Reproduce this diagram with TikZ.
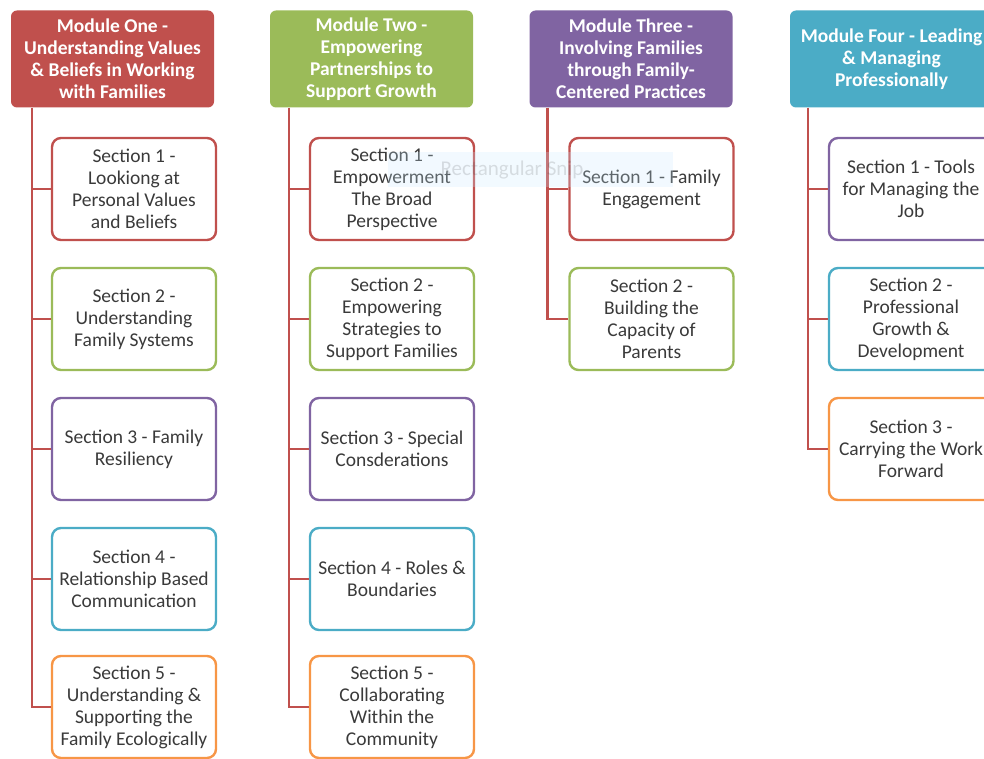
\documentclass[tikz,border=0pt]{standalone}
\usepackage{fontspec}
\setmainfont{Carlito}
\definecolor{modred}{HTML}{C0504D}
\definecolor{modgreen}{HTML}{9BBB59}
\definecolor{modpurple}{HTML}{8064A2}
\definecolor{modteal}{HTML}{4BACC6}
\definecolor{modorange}{HTML}{F79646}
\definecolor{sectext}{HTML}{3A3A3A}
\begin{document}
\begin{tikzpicture}[x=1pt, y=-1pt,
  module/.style = {rounded corners=6pt, minimum width=203pt, minimum height=97pt, text=white, align=center, inner sep=0pt, font=\fontsize{19.5}{22}\selectfont\bfseries},
  section/.style = {draw, line width=2.4pt, rounded corners=9pt, fill=white, minimum width=164pt, minimum height=102pt, text=sectext, align=center, inner sep=0pt, font=\fontsize{19.5}{22}\selectfont},
  conn/.style = {draw=modred, line width=2.4pt}]
\useasboundingbox (0,0) rectangle (984,759);
\clip (0,0) rectangle (984,759);
% modules
\node (m1) at (112.5,59) [module, fill=modred] {Module One -\\Understanding Values\\\& Beliefs in Working\\with Families};
\node (m2) at (371.5,59) [module, fill=modgreen] {Module Two -\\Empowering\\Partnerships to\\Support Growth};
\node (m3) at (631,59) [module, fill=modpurple] {Module Three -\\Involving Families\\through Family-\\Centered Practices};
\node (m4) at (891.5,59) [module, fill=modteal] {Module Four - Leading\\\& Managing\\Professionally};
% module one
\node (s11) at (134,189) [section, draw=modred] {Section 1 -\\Lookiong at\\Personal Values\\and Beliefs};
\node (s12) at (134,319) [section, draw=modgreen] {Section 2 -\\Understanding\\Family Systems};
\node (s13) at (134,449) [section, draw=modpurple] {Section 3 - Family\\Resiliency};
\node (s14) at (134,579) [section, draw=modteal] {Section 4 -\\Relationship Based\\Communication};
\node (s15) at (134,707) [section, draw=modorange] {Section 5 -\\Understanding \&\\Supporting the\\Family Ecologically};
% module two
\node (s21) at (392,189) [section, draw=modred] {Section 1 -\\Empowerment\\The Broad\\Perspective};
\node (s22) at (392,319) [section, draw=modgreen] {Section 2 -\\Empowering\\Strategies to\\Support Families};
\node (s23) at (392,449) [section, draw=modpurple] {Section 3 - Special\\Consderations};
\node (s24) at (392,579) [section, draw=modteal] {Section 4 - Roles \&\\Boundaries};
\node (s25) at (392,707) [section, draw=modorange] {Section 5 -\\Collaborating\\Within the\\Community};
% module three
\node (s31) at (651.5,189) [section, draw=modred] {Section 1 - Family\\Engagement};
\node (s32) at (651.5,319) [section, draw=modgreen] {Section 2 -\\Building the\\Capacity of\\Parents};
% module four
\node (s41) at (911,189) [section, draw=modpurple] {Section 1 - Tools\\for Managing the\\Job};
\node (s42) at (911,319) [section, draw=modteal] {Section 2 -\\Professional\\Growth \&\\Development};
\node (s43) at (911,449) [section, draw=modorange] {Section 3 -\\Carrying the Work\\Forward};
% connectors
\coordinate (r1) at ([xshift=21pt]m1.south west);
\coordinate (r2) at ([xshift=19pt]m2.south west);
\coordinate (r3) at ([xshift=18pt]m3.south west);
\coordinate (r4) at ([xshift=18pt]m4.south west);
\draw [conn] (r1) |- (s15.west);
\draw [conn] (r2) |- (s25.west);
\draw [conn] (r3) |- (s32.west);
\draw [conn] (r4) |- (s43.west);
\foreach \s in {s11,s12,s13,s14} \draw [conn] (r1 |- \s.west) -- (\s.west);
\foreach \s in {s21,s22,s23,s24} \draw [conn] (r2 |- \s.west) -- (\s.west);
\draw [conn] (r3 |- s31.west) -- (s31.west);
\foreach \s in {s41,s42} \draw [conn] (r4 |- \s.west) -- (\s.west);
% faint snip label
\node (snip) at (530,170) [fill=blue!40!cyan!20, fill opacity=0.25, text opacity=0.12, minimum width=285pt, minimum height=35pt, font=\fontsize{21}{22}\selectfont] {\hspace*{48pt}Rectangular Snip\hspace*{84pt}};
\end{tikzpicture}
\end{document}
